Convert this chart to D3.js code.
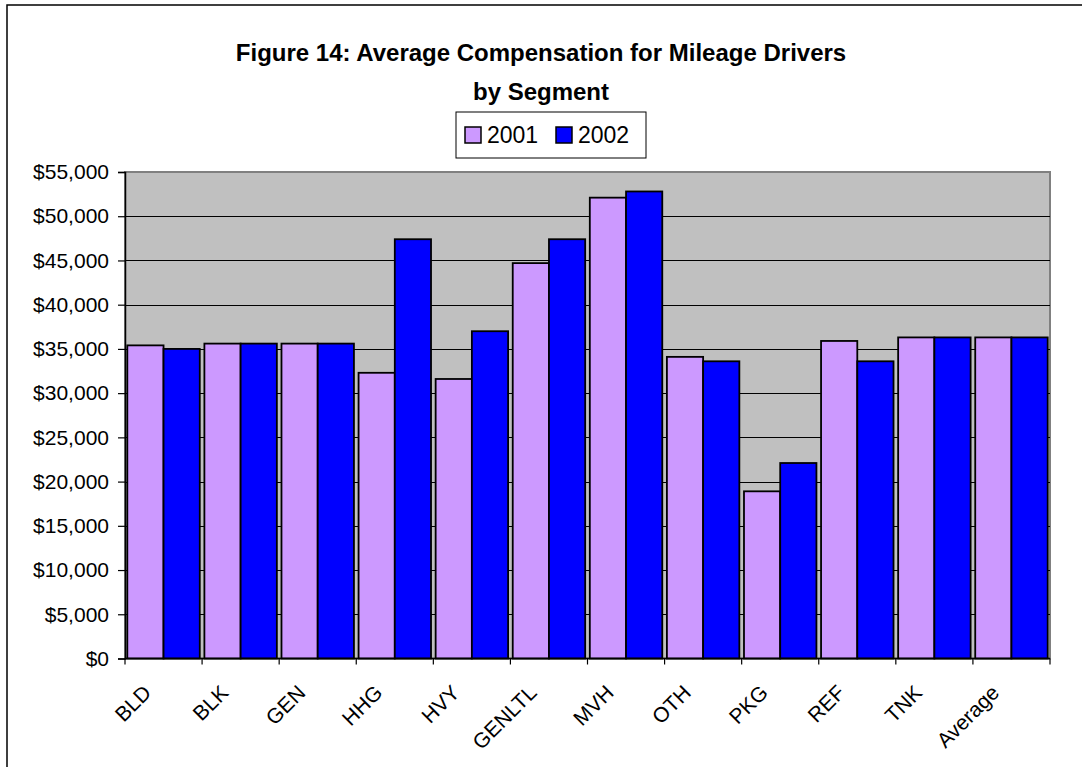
<!DOCTYPE html>
<html>
<head>
<meta charset="utf-8">
<script src="https://cdn.jsdelivr.net/npm/d3@7"></script>
<style>
  html, body { margin: 0; padding: 0; background: #fff; }
  svg { display: block; font-family: "Liberation Sans", Arial, sans-serif; }
</style>
</head>
<body>
<svg id="chart" width="1082" height="767"></svg>
<script>
const categories = ["BLD","BLK","GEN","HHG","HVY","GENLTL","MVH","OTH","PKG","REF","TNK","Average"];
const seriesNames = ["2001","2002"];
const values2001 = [35400,35600,35600,32300,31600,44700,52100,34100,18900,35900,36300,36300];
const values2002 = [35000,35600,35600,47400,37000,47400,52800,33600,22100,33600,36300,36300];
const yTickValues = [0,5000,10000,15000,20000,25000,30000,35000,40000,45000,50000,55000];
const titleLines = ["Figure 14: Average Compensation for Mileage Drivers", "by Segment"];
const colors = {"2001": "#CC99FF", "2002": "#0000FF"};

const svg = d3.select("#chart");
const plot = {left: 125, right: 1050, top: 172, bottom: 658.5};

// outer frame
svg.append("rect").attr("x", 7).attr("y", 5).attr("width", 1100).attr("height", 800)
  .attr("fill", "#fff").attr("stroke", "#000").attr("stroke-width", 1.5);

// title
svg.append("text").attr("x", 541).attr("y", 61).attr("text-anchor", "middle")
  .attr("font-size", 24).attr("font-weight", "bold").text(titleLines[0]);
svg.append("text").attr("x", 541).attr("y", 100).attr("text-anchor", "middle")
  .attr("font-size", 24).attr("font-weight", "bold").text(titleLines[1]);

// scales
const x0 = d3.scaleBand().domain(categories).range([plot.left, plot.right]).paddingInner(0.06).paddingOuter(0.03);
const x1 = d3.scaleBand().domain(seriesNames).range([0, x0.bandwidth()]).padding(0);
const y = d3.scaleLinear().domain([0, 55000]).range([plot.bottom, plot.top]);

// plot background
svg.append("rect").attr("x", plot.left).attr("y", plot.top)
  .attr("width", plot.right - plot.left).attr("height", plot.bottom - plot.top)
  .attr("fill", "#C0C0C0").attr("stroke", "#808080").attr("stroke-width", 2);

// gridlines
svg.append("g").selectAll("line").data(yTickValues.filter(v => v > 0 && v < 55000)).join("line")
  .attr("x1", plot.left).attr("x2", plot.right)
  .attr("y1", d => Math.round(y(d)) + 0.5).attr("y2", d => Math.round(y(d)) + 0.5)
  .attr("stroke", "#000").attr("stroke-width", 1);

// bars
const data = categories.map((c, i) => ({cat: c, vals: [
  {s: "2001", v: values2001[i]}, {s: "2002", v: values2002[i]}]}));
const groups = svg.append("g").selectAll("g").data(data).join("g")
  .attr("transform", d => `translate(${x0(d.cat)},0)`);
groups.selectAll("rect").data(d => d.vals).join("rect")
  .attr("x", d => x1(d.s)).attr("width", x1.bandwidth())
  .attr("y", d => y(d.v)).attr("height", d => y(0) - y(d.v))
  .attr("fill", d => colors[d.s]).attr("stroke", "#000").attr("stroke-width", 1.8);

// y axis
const yAxis = d3.axisLeft(y).tickValues(yTickValues).tickFormat(d3.format("$,.0f")).tickSize(7).tickPadding(9);
const gy = svg.append("g").attr("transform", `translate(${plot.left},0)`).call(yAxis);
gy.select(".domain").attr("stroke", "#000").attr("stroke-width", 1.5);
gy.selectAll(".tick line").attr("stroke", "#000").attr("stroke-width", 1.2);
gy.selectAll(".tick text").attr("font-size", 21).attr("fill", "#000")
  .attr("font-family", "Liberation Sans, Arial, sans-serif");

// x axis: ticks at category boundaries
const boundaries = d3.range(categories.length + 1).map(i => plot.left + i * ((plot.right - plot.left) / categories.length));
svg.append("line").attr("x1", plot.left).attr("x2", plot.right).attr("y1", plot.bottom).attr("y2", plot.bottom)
  .attr("stroke", "#000").attr("stroke-width", 1.5);
svg.append("g").selectAll("line").data(boundaries).join("line")
  .attr("x1", d => d).attr("x2", d => d).attr("y1", plot.bottom).attr("y2", plot.bottom + 6)
  .attr("stroke", "#000").attr("stroke-width", 1.2);
svg.append("g").selectAll("text").data(categories).join("text")
  .attr("transform", d => `translate(${x0(d) + x0.bandwidth() / 2 - 11},694) rotate(-45)`)
  .attr("text-anchor", "end").attr("font-size", 21).attr("fill", "#000").text(d => d);

// legend
const lg = svg.append("g");
lg.append("rect").attr("x", 456).attr("y", 112).attr("width", 190).attr("height", 46)
  .attr("fill", "#fff").attr("stroke", "#000").attr("stroke-width", 1);
const legendX = [465, 556];
seriesNames.forEach((s, i) => {
  lg.append("rect").attr("x", legendX[i]).attr("y", 127).attr("width", 16).attr("height", 16)
    .attr("fill", colors[s]).attr("stroke", "#000").attr("stroke-width", 1.5);
  lg.append("text").attr("x", legendX[i] + 22).attr("y", 143).attr("font-size", 23).text(s);
});
</script>
</body>
</html>
